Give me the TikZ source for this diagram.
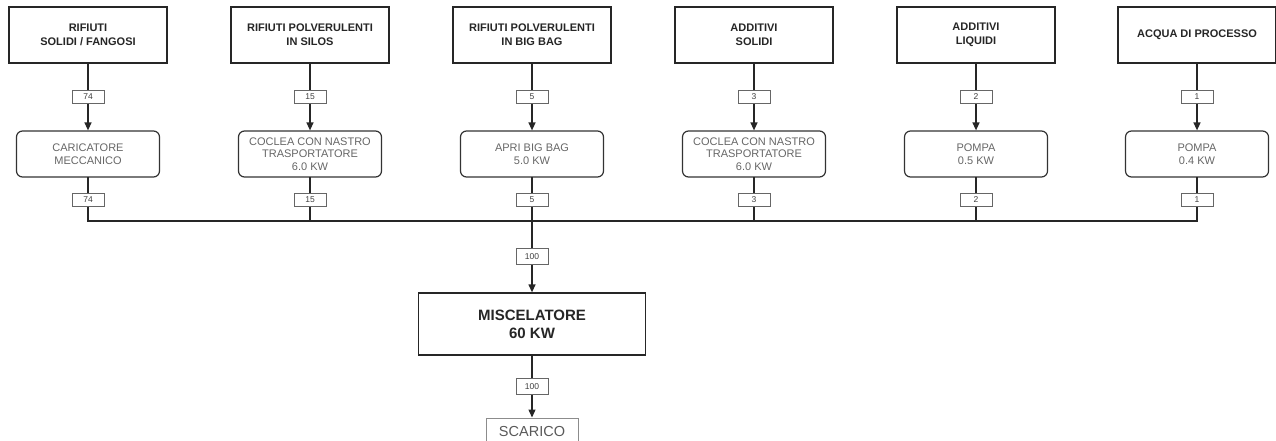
\documentclass[tikz,border=0pt]{standalone}
\usepackage{fontspec}
\setmainfont{Liberation Sans}
\usetikzlibrary{arrows.meta}
\begin{document}
\begin{tikzpicture}[x=1pt,y=-1pt,
 src/.style={draw=black!85,line width=1.3pt,minimum width=158pt,minimum height=56pt,inner sep=0pt,align=center,font=\fontsize{11}{14}\selectfont\bfseries,text=black!85},
 proc/.style={draw=black!80,line width=1.2pt,rounded corners=6pt,minimum width=143pt,minimum height=46pt,inner sep=0pt,align=center,font=\fontsize{11}{12.5}\selectfont,text=black!60},
 qty/.style={draw=black!60,line width=0.6pt,fill=white,minimum width=32pt,minimum height=13pt,inner sep=0pt,font=\fontsize{8.5}{9}\selectfont,text=black!75},
 bigqty/.style={qty,minimum height=16pt},
 flow/.style={line width=1.3pt,draw=black!85,line cap=rect},
 arr/.style={line width=1.3pt,draw=black!85,-{Triangle[length=8pt,width=7pt]}},
]
\useasboundingbox (0,0) rectangle (1276,441);
\clip (0,0) rectangle (1276,441);
% sources
\node[src] (s1) at (88,35) {RIFIUTI\\SOLIDI / FANGOSI};
\node[src] (s2) at (310,35) {RIFIUTI POLVERULENTI\\IN SILOS};
\node[src] (s3) at (532,35) {RIFIUTI POLVERULENTI\\IN BIG BAG};
\node[src] (s4) at (754,35) {ADDITIVI\\SOLIDI};
\node[src] (s5) at (976,35) {ADDITIVI\\LIQUIDI};
\node[src] (s6) at (1197,35) {ACQUA DI PROCESSO};
% equipment
\node[proc] (p1) at (88,154) {CARICATORE\\MECCANICO};
\node[proc] (p2) at (310,154) {COCLEA CON NASTRO\\TRASPORTATORE\\6.0 KW};
\node[proc] (p3) at (532,154) {APRI BIG BAG\\5.0 KW};
\node[proc] (p4) at (754,154) {COCLEA CON NASTRO\\TRASPORTATORE\\6.0 KW};
\node[proc] (p5) at (976,154) {POMPA\\0.5 KW};
\node[proc] (p6) at (1197,154) {POMPA\\0.4 KW};
% junctions on the collector
\coordinate (j1) at (88,221);
\coordinate (j2) at (310,221);
\coordinate (j3) at (532,221);
\coordinate (j4) at (754,221);
\coordinate (j5) at (976,221);
\coordinate (j6) at (1197,221);
% mixer and outlet
\node[draw=black!85,line width=1.3pt,minimum width=227pt,minimum height=62pt,inner sep=0pt,align=center,font=\fontsize{15}{18}\selectfont\bfseries,text=black!85] (mix) at (532,324) {MISCELATORE\\60 KW};
\node[draw=black!45,line width=1pt,minimum width=92pt,minimum height=28pt,inner sep=0pt,font=\fontsize{14.5}{16}\selectfont,text=black!65] (out) at (532,432) {SCARICO};
% flows
\draw[arr] (s1) -- node[qty]{74} (p1);
\draw[arr] (s2) -- node[qty]{15} (p2);
\draw[arr] (s3) -- node[qty]{5} (p3);
\draw[arr] (s4) -- node[qty]{3} (p4);
\draw[arr] (s5) -- node[qty]{2} (p5);
\draw[arr] (s6) -- node[qty]{1} (p6);
\draw[flow] (j1) -- (j6);
\draw[flow] (p1) -- node[qty]{74} (j1);
\draw[flow] (p2) -- node[qty]{15} (j2);
\draw[flow] (p3) -- node[qty]{5} (j3);
\draw[flow] (p4) -- node[qty]{3} (j4);
\draw[flow] (p5) -- node[qty]{2} (j5);
\draw[flow] (p6) -- node[qty]{1} (j6);
\draw[arr] (j3) -- node[bigqty]{100} (mix);
\draw[arr] (mix) -- node[bigqty]{100} (out);
\end{tikzpicture}
\end{document}
